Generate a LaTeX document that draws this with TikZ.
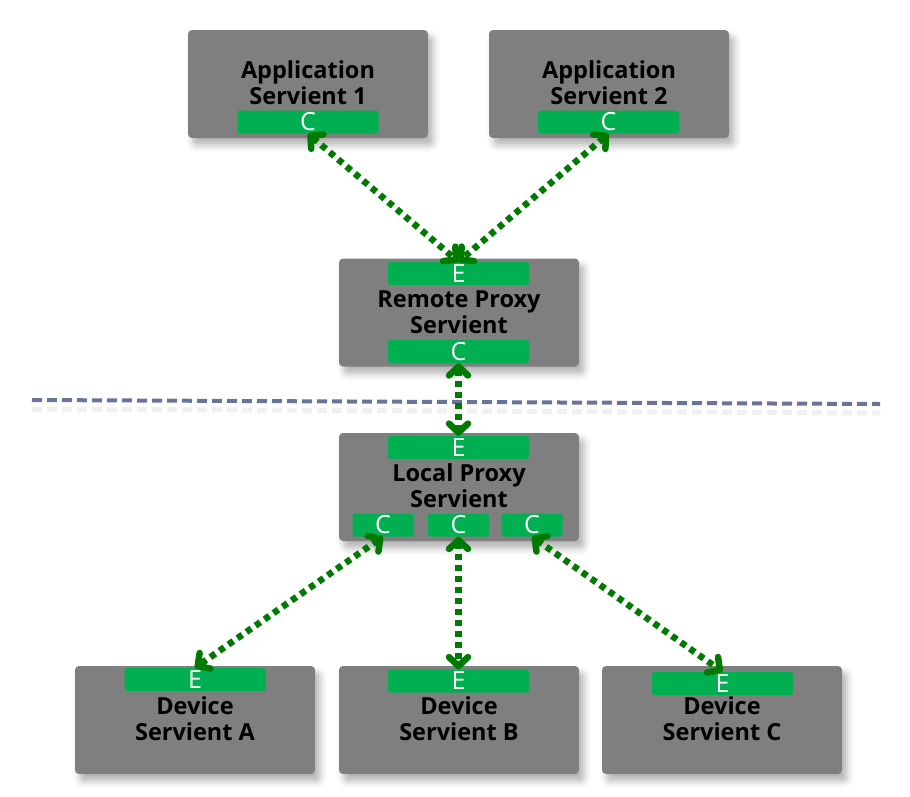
\documentclass[tikz,border=0pt]{standalone}
\usepackage{fontspec}
\setmainfont{Open Sans}
\usetikzlibrary{arrows.meta,shadows.blur}
\definecolor{boxgray}{RGB}{127,127,127}
\definecolor{portgreen}{RGB}{0,176,80}
\definecolor{linkgreen}{RGB}{0,122,0}
\definecolor{cutblue}{RGB}{106,115,153}

\begin{document}
\begin{tikzpicture}[x=1pt,y=1pt,yscale=-1,xscale=1,
	servient/.style={fill=boxgray, rounded corners=4pt, minimum width=240pt, minimum height=108pt, inner sep=0pt,
		blur shadow={shadow xshift=5pt, shadow yshift=-7pt, shadow blur radius=7pt, shadow opacity=30}},
	port/.style={fill=portgreen, rounded corners=2.5pt, minimum width=141pt, minimum height=23pt, inner sep=0pt,
		text=white, font=\fontsize{25}{25}\selectfont},
	smallport/.style={port, minimum width=61pt},
	title/.style={align=center, inner sep=0pt, font=\fontsize{23.5}{26}\selectfont\bfseries},
	link/.style={draw=linkgreen, line width=6.5pt, dash pattern=on 6pt off 5pt,
		{Straight Barb[length=9pt,width=19pt,round]}-{Straight Barb[length=9pt,width=19pt,round]}}]
	\useasboundingbox (0,0) rectangle (910,796);
	
	%Shape: Boxes
	\node [servient] (app1) at (308,84) {};
	\node [servient] (app2) at (609,84) {};
	\node [servient] (remote) at (459,312.5) {};
	\node [servient] (local) at (459,487) {};
	\node [servient] (deva) at (195,720) {};
	\node [servient] (devb) at (459,720) {};
	\node [servient] (devc) at (722,720) {};
	
	%Shape: Ports
	\node [port] (app1c) at (308,122) {C};
	\node [port] (app2c) at (608.5,122) {C};
	\node [port] (remotee) at (458.5,273.5) {E};
	\node [port] (remotec) at (458.5,351.5) {C};
	\node [port] (locale) at (458.5,447.5) {E};
	\node [smallport] (localc1) at (383,525) {C};
	\node [smallport] (localc2) at (458.5,525) {C};
	\node [smallport] (localc3) at (532,525) {C};
	\node [port] (devae) at (195,679.5) {E};
	\node [port] (devbe) at (458.5,681) {E};
	\node [port] (devce) at (722.5,683.5) {E};
	
	% Text Node
	\node [title] (app1t) at (308,83) {Application\\Servient 1};
	% Text Node
	\node [title] (app2t) at (609,83) {Application\\Servient 2};
	% Text Node
	\node [title] (remotet) at (459,312) {Remote Proxy\\Servient};
	% Text Node
	\node [title] (localt) at (459,486) {Local Proxy\\Servient};
	% Text Node
	\node [title] (devat) at (195,719) {Device\\Servient A};
	% Text Node
	\node [title] (devbt) at (459,719) {Device\\Servient B};
	% Text Node
	\node [title] (devct) at (722,719) {Device\\Servient C};
	
	%Straight Lines: network border
	\coordinate (cutl) at (32,400);
	\coordinate (cutr) at (880,404);
	\draw [black!15, opacity=0.4, line width=5pt, dash pattern=on 10pt off 5pt] ([yshift=9pt]cutl) -- ([yshift=9pt]cutr);
	\draw [cutblue, line width=4pt, dash pattern=on 10pt off 5pt] (cutl) -- (cutr);
	
	%Straight Lines: links
	\draw [link] (app1c.south) -- (remotee.north);
	\draw [link] (app2c.south) -- (remotee.north);
	\draw [link] (remotec.south) -- (locale.north);
	\draw [link] (localc1.south) -- (devae.north);
	\draw [link] (localc2.south) -- (devbe.north);
	\draw [link] (localc3.south) -- (devce.north);
	
\end{tikzpicture}
\end{document}
